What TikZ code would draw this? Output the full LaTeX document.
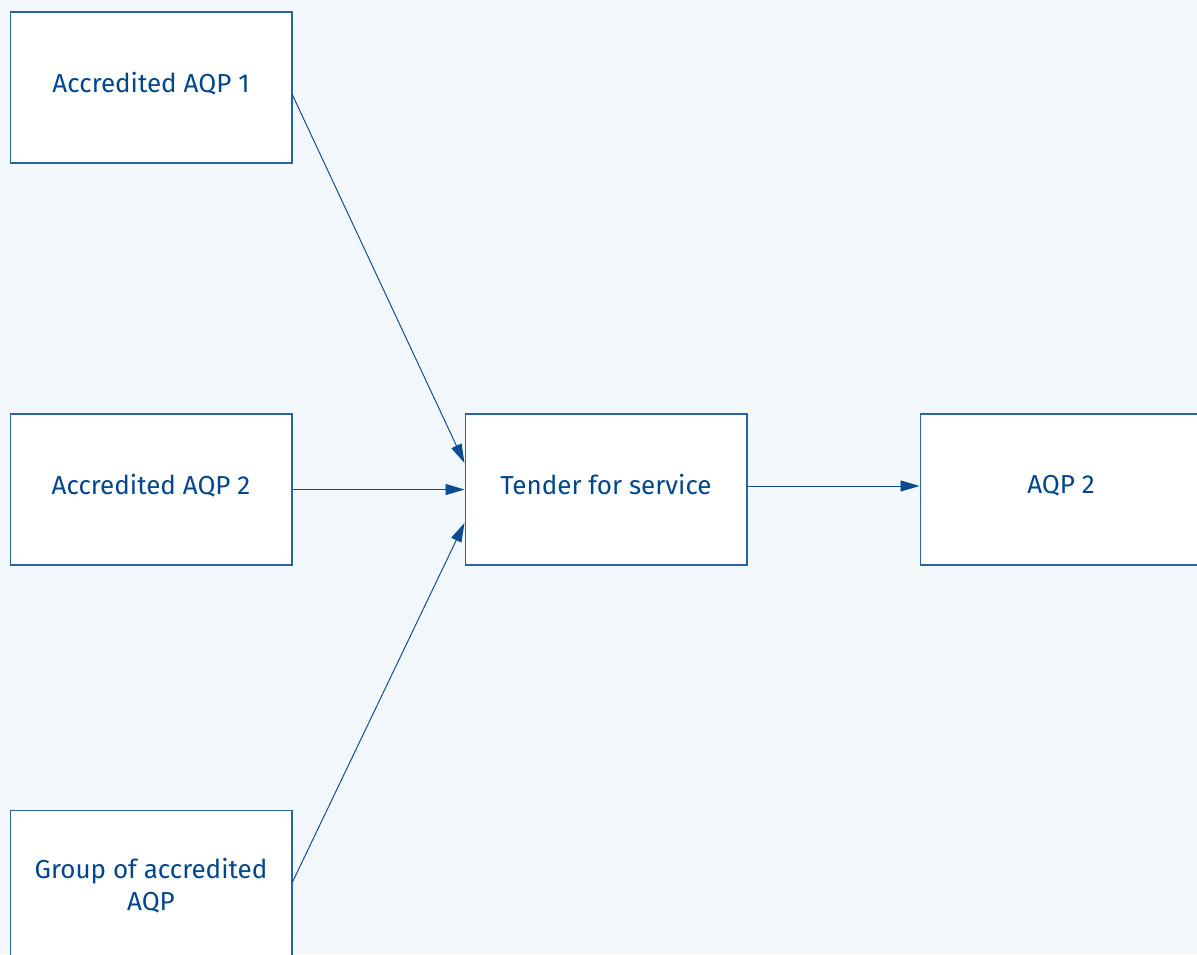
\documentclass[tikz,border=0pt]{standalone}
\usepackage{fontspec}
\setmainfont{Fira Sans}
\usepackage{tikz}
\usetikzlibrary{arrows.meta, positioning, calc}
\definecolor{bgcolor}{RGB}{242, 247, 252}
\definecolor{boxline}{RGB}{40, 100, 165}
\definecolor{textcolor}{RGB}{0, 70, 140}
\definecolor{arrowcolor}{RGB}{10, 75, 145}

\begin{document}
\begin{tikzpicture}[x=0.02cm, y=-0.02cm,
    aqpbox/.style={draw=boxline, fill=white, line width=0.6pt, minimum width=5.64cm, minimum height=3.02cm, align=center, text=textcolor, font=\fontsize{14.8}{18.5}\selectfont, inner sep=0pt},
    oneline/.style={aqpbox, text depth=0.22cm},
    flow/.style={arrowcolor, line width=0.55pt, -{Triangle[length=0.38cm, width=0.22cm]}}]
    % Background
    \fill[bgcolor] (0, 0) rectangle (1197, 954);
    \useasboundingbox (0, 0) rectangle (1197, 954);

    % Providers
    \node[oneline] (aqpone) at (151, 87.5) {Accredited AQP 1};
    \node[oneline] (aqptwo) at (151, 489.5) {Accredited AQP 2};
    \node[aqpbox] (aqpgroup) at (151, 885.5) {Group of accredited\\AQP};

    % Tender and outcome
    \node[oneline] (tender) at (606, 489.5) {Tender for service};
    \node[oneline] (winner) at (1061, 489.5) {AQP 2};

    % Connectors
    \draw[flow] ([yshift=-0.15cm]aqpone.east) -- ([yshift=0.53cm]tender.west);
    \draw[flow] (aqptwo.east) -- (tender.west);
    \draw[flow] ([yshift=0.07cm]aqpgroup.east) -- ([yshift=-0.67cm]tender.west);
    \draw[flow] ([yshift=0.07cm]tender.east) -- ([yshift=0.07cm]winner.west);
\end{tikzpicture}
\end{document}
